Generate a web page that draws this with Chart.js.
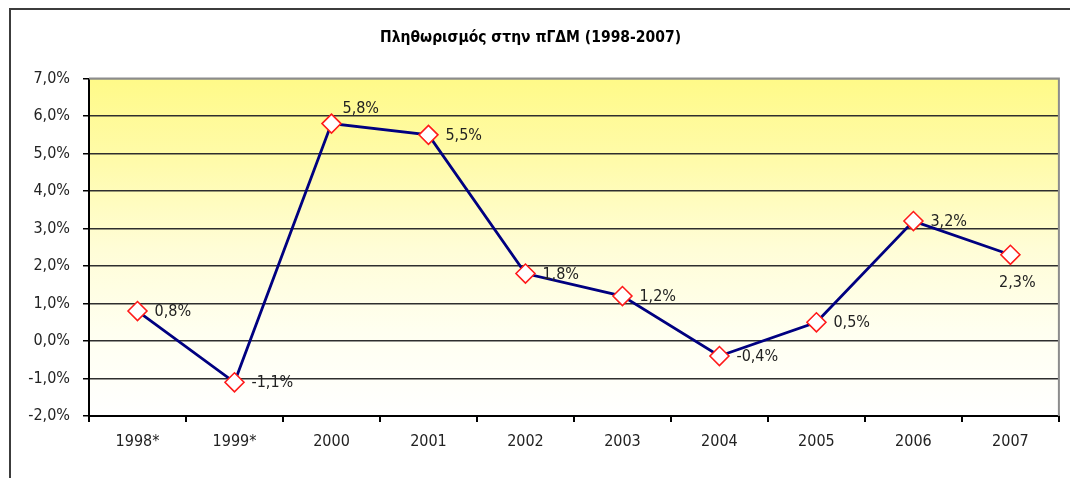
<!DOCTYPE html>
<html>
<head>
<meta charset="utf-8">
<script src="https://cdn.jsdelivr.net/npm/chart.js@4/dist/chart.umd.min.js"></script>
<style>
  html, body { margin: 0; padding: 0; background: #ffffff; }
  #wrap { width: 1070px; height: 478px; position: relative; }
</style>
</head>
<body>
<div id="wrap"><canvas id="c" width="1070" height="478"></canvas></div>
<script>
// Annual inflation, North Macedonia 1998-2007 (%)
const years = ['1998*', '1999*', '2000', '2001', '2002', '2003', '2004', '2005', '2006', '2007'];
const inflation = [0.8, -1.1, 5.8, 5.5, 1.8, 1.2, -0.4, 0.5, 3.2, 2.3];
const yMin = -2;
const yMax = 7;
const yStep = 1;
const titleText = 'Πληθωρισμός στην πΓΔΜ (1998-2007)';

// Where each value label sits relative to its marker
const labelPlacement = ['right', 'right', 'above', 'right', 'right', 'right', 'right', 'right', 'right', 'below'];

const FONT = "'Liberation Sans Narrow', 'Arial Narrow', 'DejaVu Sans Condensed', sans-serif";
const fmtPct = v => v.toFixed(1).replace('.', ',') + '%';

// Page frame, white background and yellow gradient plot area
const backdrop = {
  id: 'backdrop',
  beforeDraw(chart) {
    const { ctx, chartArea: a, width, height } = chart;
    ctx.save();
    ctx.fillStyle = '#ffffff';
    ctx.fillRect(0, 0, width, height);
    ctx.strokeStyle = '#3c3c3c';
    ctx.lineWidth = 2;
    ctx.beginPath();
    ctx.moveTo(10, height);
    ctx.lineTo(10, 9);
    ctx.lineTo(width, 9);
    ctx.stroke();
    const g = ctx.createLinearGradient(0, a.top, 0, a.bottom);
    g.addColorStop(0, '#fffa88');
    g.addColorStop(0.25, '#fffbab');
    g.addColorStop(0.5, '#fffdd6');
    g.addColorStop(0.75, '#fffff0');
    g.addColorStop(1, '#ffffff');
    ctx.fillStyle = g;
    ctx.fillRect(a.left, a.top, a.right - a.left, a.bottom - a.top);
    ctx.restore();
  },
  beforeDatasetsDraw(chart) {
    const { ctx, chartArea: a } = chart;
    ctx.save();
    ctx.strokeStyle = '#8c8c8c';
    ctx.lineWidth = 2;
    ctx.beginPath();
    ctx.moveTo(a.left, a.top);
    ctx.lineTo(a.right, a.top);
    ctx.lineTo(a.right, a.bottom);
    ctx.stroke();
    ctx.restore();
  }
};

// Value labels next to each marker
const valueLabels = {
  id: 'valueLabels',
  afterDatasetsDraw(chart) {
    const { ctx } = chart;
    const meta = chart.getDatasetMeta(0);
    ctx.save();
    ctx.font = '16px ' + FONT;
    ctx.fillStyle = '#222222';
    meta.data.forEach((pt, i) => {
      const txt = fmtPct(inflation[i]);
      const where = labelPlacement[i];
      let x = pt.x, y = pt.y;
      if (where === 'above') {
        ctx.textAlign = 'left'; ctx.textBaseline = 'middle';
        x += 11; y -= 15;
      } else if (where === 'below') {
        ctx.textAlign = 'center'; ctx.textBaseline = 'middle';
        x += 7; y += 28;
      } else {
        ctx.textAlign = 'left'; ctx.textBaseline = 'middle';
        x += 17; y += 1;
      }
      ctx.fillText(txt, x, y);
    });
    ctx.restore();
  }
};

new Chart(document.getElementById('c'), {
  type: 'line',
  data: {
    labels: years,
    datasets: [{
      data: inflation,
      borderColor: '#000080',
      borderWidth: 2.8,
      tension: 0,
      fill: false,
      pointStyle: 'rectRot',
      pointRadius: 9.5,
      pointHoverRadius: 9.5,
      pointBackgroundColor: '#ffffff',
      pointBorderColor: '#ff1a1a',
      pointBorderWidth: 1.6
    }]
  },
  options: {
    responsive: false,
    animation: false,
    devicePixelRatio: 1,
    layout: { padding: { left: 0, right: 9, top: 0, bottom: 26 } },
    plugins: {
      legend: { display: false },
      tooltip: { enabled: false },
      title: {
        display: true,
        text: titleText,
        color: '#000000',
        font: { family: FONT, size: 15.5, weight: 'bold' },
        padding: { top: 29, bottom: 31 }
      }
    },
    scales: {
      x: {
        type: 'category',
        offset: true,
        grid: { offset: true, drawOnChartArea: false, drawTicks: true, tickLength: 6, color: '#000000', lineWidth: 2 },
        border: { color: '#000000', width: 2 },
        ticks: { padding: 10, color: '#222222', font: { family: FONT, size: 16 }, maxRotation: 0, autoSkip: false },
        afterFit(s) { s.height = 36; }
      },
      y: {
        min: yMin,
        max: yMax,
        ticks: {
          stepSize: yStep,
          padding: 13,
          color: '#222222',
          font: { family: FONT, size: 16 },
          callback: v => fmtPct(v)
        },
        grid: {
          color: ctx => (ctx.tick && ctx.tick.value === yMax) ? '#8c8c8c' : '#2e2e2e',
          lineWidth: 1.5,
          tickLength: 6,
          tickColor: '#000000'
        },
        border: { color: '#000000', width: 2 },
        afterFit(s) { s.width = 89; }
      }
    }
  },
  plugins: [backdrop, valueLabels]
});
</script>
</body>
</html>
